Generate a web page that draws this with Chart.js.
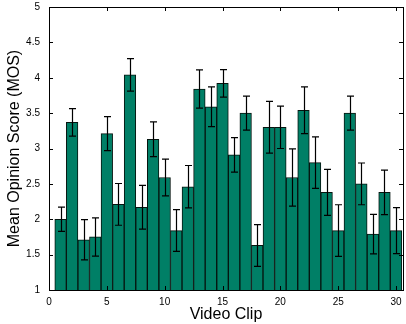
<!DOCTYPE html>
<html>
<head>
<meta charset="utf-8">
<script src="https://cdn.jsdelivr.net/npm/chart.js@4/dist/chart.umd.min.js"></script>
<style>
  html, body { margin: 0; padding: 0; background: #fff; }
  #wrap { width: 406px; height: 324px; position: relative; }
</style>
</head>
<body>
<div id="wrap"><canvas id="mosChart"></canvas></div>
<script>
// video clip numbers
const clips = [1,2,3,4,5,6,7,8,9,10,11,12,13,14,15,16,17,18,19,20,21,22,23,24,25,26,27,28,29,30];
// mean opinion score per clip
const mos = [2.00,3.37,1.71,1.75,3.21,2.21,4.04,2.17,3.13,2.59,1.84,2.46,3.84,3.59,3.92,
             2.91,3.50,1.63,3.30,3.30,2.59,3.54,2.80,2.38,1.84,3.50,2.50,1.79,2.38,1.84];
// half length of the error bars
const errs = [0.17,0.195,0.285,0.27,0.24,0.295,0.23,0.31,0.245,0.26,0.295,0.30,0.27,0.28,0.195,
              0.245,0.24,0.295,0.365,0.30,0.405,0.33,0.365,0.325,0.365,0.24,0.295,0.28,0.315,0.325];
const xTicks = [0,5,10,15,20,25,30];
const yTicks = [1,1.5,2,2.5,3,3.5,4,4.5,5];

const FONT = '"Liberation Sans", Arial, sans-serif';

// error bars + box frame with inward ticks (matlab look)
const matlabAxes = {
    id: 'matlabAxes',
    afterDatasetsDraw(chart) {
        const ctx = chart.ctx;
        const xs = chart.scales.x, ys = chart.scales.y;
        ctx.save();
        ctx.strokeStyle = '#000';
        ctx.lineWidth = 1.2;
        const cap = 3.5;
        clips.forEach((c, i) => {
            const px = Math.round(xs.getPixelForValue(c)) + 0.5;
            const top = ys.getPixelForValue(mos[i] + errs[i]);
            const bot = ys.getPixelForValue(mos[i] - errs[i]);
            ctx.beginPath();
            ctx.moveTo(px, top); ctx.lineTo(px, bot);
            ctx.moveTo(px - cap, top); ctx.lineTo(px + cap, top);
            ctx.moveTo(px - cap, bot); ctx.lineTo(px + cap, bot);
            ctx.stroke();
        });

        const a = chart.chartArea;
        ctx.lineWidth = 1;
        ctx.strokeRect(Math.round(a.left) + 0.5, Math.round(a.top) + 0.5,
                       Math.round(a.right - a.left), Math.round(a.bottom - a.top));
        const t = 4;
        ctx.beginPath();
        xTicks.forEach(v => {
            const px = Math.round(xs.getPixelForValue(v)) + 0.5;
            ctx.moveTo(px, a.bottom); ctx.lineTo(px, a.bottom - t);
            ctx.moveTo(px, a.top); ctx.lineTo(px, a.top + t);
        });
        yTicks.forEach(v => {
            const py = Math.round(ys.getPixelForValue(v)) + 0.5;
            ctx.moveTo(a.left, py); ctx.lineTo(a.left + t, py);
            ctx.moveTo(a.right, py); ctx.lineTo(a.right - t, py);
        });
        ctx.stroke();
        ctx.restore();
    }
};

new Chart(document.getElementById('mosChart'), {
    type: 'bar',
    data: {
        datasets: [{
            data: clips.map((c, i) => ({ x: c, y: mos[i] })),
            backgroundColor: '#007f66',
            borderColor: '#06140f',
            borderWidth: 1,
            borderSkipped: 'start',
            barPercentage: 1,
            categoryPercentage: 1
        }]
    },
    options: {
        responsive: true,
        maintainAspectRatio: false,
        animation: false,
        layout: { padding: { top: 7, right: 3, left: 0, bottom: 0 } },
        plugins: { legend: { display: false }, tooltip: { enabled: false } },
        scales: {
            x: {
                type: 'linear',
                offset: false,
                min: 0, max: 30.6,
                grid: { display: false, offset: false },
                border: { display: false },
                afterBuildTicks: s => { s.ticks = xTicks.map(v => ({ value: v })); },
                afterFit: s => { s.height = 34; },
                ticks: { color: '#000', font: { family: FONT, size: 10 }, padding: -2, maxRotation: 0 },
                title: { display: true, text: 'Video Clip', color: '#000',
                         font: { family: FONT, size: 16 }, padding: { top: 0, bottom: 0 } }
            },
            y: {
                min: 1, max: 5,
                grid: { display: false },
                border: { display: false },
                afterBuildTicks: s => { s.ticks = yTicks.map(v => ({ value: v })); },
                afterFit: s => { s.width = 49; },
                ticks: { color: '#000', font: { family: FONT, size: 10 }, padding: 1,
                         callback: v => String(v) },
                title: { display: true, text: 'Mean Opinion Score (MOS)', color: '#000',
                         font: { family: FONT, size: 16 }, padding: { top: 5, bottom: 0 } }
            }
        }
    },
    plugins: [matlabAxes]
});
</script>
</body>
</html>
